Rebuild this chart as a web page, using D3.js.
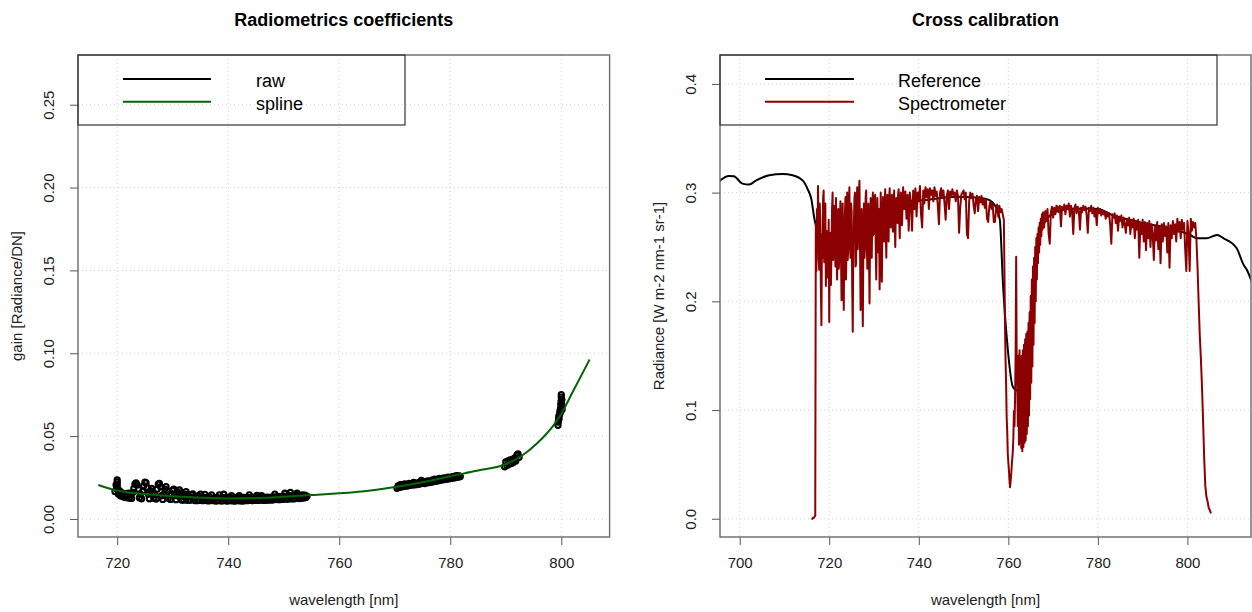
<!DOCTYPE html>
<html>
<head>
<meta charset="utf-8">
<script src="https://cdn.jsdelivr.net/npm/d3@7"></script>
<style>
  html, body { margin: 0; padding: 0; background: #ffffff; }
  svg { display: block; font-family: "Liberation Sans", Arial, Helvetica, sans-serif; }
</style>
</head>
<body>
<svg id="fig" width="1252" height="612"></svg>
<script>
// ---------------- Left panel: radiometric gain coefficients ----------------
const gainTicksX = [720, 740, 760, 780, 800];
const gainTicksY = [0, 0.05, 0.10, 0.15, 0.20, 0.25];
const gainTickLabelsY = ["0.00", "0.05", "0.10", "0.15", "0.20", "0.25"];

// raw gain samples, one row per 2 nm block, samples 0.2 nm apart
const rawStep = 0.2;
const rawRows = [
  [719.6, [0.0165, 0.0205, 0.0185, 0.0150, 0.0170, 0.0140, 0.0158, 0.0135, 0.0152, 0.0130]],
  [721.6, [0.0150, 0.0128, 0.0155, 0.0126, 0.0148, 0.0124, 0.0160, 0.0185, 0.0210, 0.0218]],
  [723.6, [0.0205, 0.0180, 0.0128, 0.0150, 0.0122, 0.0165, 0.0200, 0.0222, 0.0218, 0.0190]],
  [725.6, [0.0150, 0.0122, 0.0170, 0.0185, 0.0160, 0.0125, 0.0150, 0.0120, 0.0180, 0.0210]],
  [727.6, [0.0214, 0.0195, 0.0140, 0.0118, 0.0150, 0.0180, 0.0195, 0.0170, 0.0125, 0.0145]],
  [729.6, [0.0118, 0.0150, 0.0172, 0.0180, 0.0150, 0.0116, 0.0140, 0.0160, 0.0175, 0.0150]],
  [731.6, [0.0114, 0.0135, 0.0113, 0.0150, 0.0165, 0.0148, 0.0112, 0.0134, 0.0113, 0.0145]],
  [733.6, [0.0151, 0.0128, 0.0111, 0.0132, 0.0110, 0.0140, 0.0112, 0.0150, 0.0130, 0.0110]],
  [735.6, [0.0132, 0.0148, 0.0112, 0.0130, 0.0109, 0.0135, 0.0111, 0.0145, 0.0120, 0.0110]],
  [737.6, [0.0128, 0.0108, 0.0130, 0.0110, 0.0145, 0.0125, 0.0108, 0.0130, 0.0149, 0.0110]],
  [739.6, [0.0127, 0.0108, 0.0130, 0.0110, 0.0128, 0.0140, 0.0109, 0.0126, 0.0108, 0.0130]],
  [741.6, [0.0110, 0.0128, 0.0140, 0.0109, 0.0127, 0.0108, 0.0130, 0.0111, 0.0128, 0.0110]],
  [743.6, [0.0128, 0.0145, 0.0112, 0.0128, 0.0110, 0.0130, 0.0112, 0.0129, 0.0142, 0.0112]],
  [745.6, [0.0129, 0.0113, 0.0140, 0.0128, 0.0112, 0.0130, 0.0114, 0.0131, 0.0113, 0.0130]],
  [747.6, [0.0115, 0.0132, 0.0114, 0.0133, 0.0150, 0.0118, 0.0134, 0.0116, 0.0135, 0.0117]],
  [749.6, [0.0136, 0.0118, 0.0137, 0.0155, 0.0120, 0.0138, 0.0119, 0.0140, 0.0160, 0.0122]],
  [751.6, [0.0140, 0.0121, 0.0142, 0.0124, 0.0155, 0.0143, 0.0123, 0.0142, 0.0125, 0.0145]],
  [753.6, [0.0127, 0.0144, 0.0130, 0.0138]],
  [770.4, [0.0185, 0.0200, 0.0190, 0.0207, 0.0193, 0.0205, 0.0196, 0.0212, 0.0198, 0.0208]],
  [772.4, [0.0200, 0.0215, 0.0203, 0.0212, 0.0205, 0.0220, 0.0206, 0.0214, 0.0208, 0.0218]],
  [774.4, [0.0210, 0.0225, 0.0233, 0.0215, 0.0224, 0.0214, 0.0226, 0.0218, 0.0230, 0.0220]],
  [776.4, [0.0228, 0.0222, 0.0235, 0.0226, 0.0240, 0.0228, 0.0236, 0.0230, 0.0245, 0.0233]],
  [778.4, [0.0242, 0.0236, 0.0248, 0.0238, 0.0246, 0.0240, 0.0252, 0.0243, 0.0250, 0.0245]],
  [780.4, [0.0255, 0.0247, 0.0258, 0.0250, 0.0262, 0.0252, 0.0260, 0.0256]],
  [789.8, [0.0315, 0.0345, 0.0322, 0.0350, 0.0330, 0.0356, 0.0335, 0.0360, 0.0342, 0.0368]],
  [791.8, [0.0350, 0.0385, 0.0392, 0.0372]]
];
// repeated readings stacked at single wavelengths
const rawStacked = [
  [720.0, 0.0235], [720.0, 0.0222], [720.0, 0.0208], [720.0, 0.0193], [720.0, 0.0178],
  [799.4, 0.0565], [799.45, 0.0585], [799.5, 0.0600], [799.55, 0.0620],
  [799.6, 0.0605], [799.7, 0.0630], [799.75, 0.0650], [799.8, 0.0640],
  [799.85, 0.0665], [799.9, 0.0690], [799.95, 0.0710], [800.0, 0.0735],
  [800.0, 0.0750], [800.05, 0.0700], [800.1, 0.0680], [800.1, 0.0720],
  [800.15, 0.0660]
];
const splineWl   = [716.6, 720, 722, 725, 730, 735, 740, 745, 750, 755, 760, 764, 770, 775, 780, 785, 789.7, 792.7, 795.7, 798.7, 800, 802, 805.1];
const splineGain = [0.0205, 0.0171, 0.0160, 0.0150, 0.0137, 0.0128, 0.0123, 0.0126, 0.0134, 0.0144, 0.0155, 0.0166, 0.0193, 0.0222, 0.0258, 0.0292, 0.0327, 0.0377, 0.0458, 0.0569, 0.0635, 0.0763, 0.0962];

// ---------------- Right panel: cross calibration ----------------
const radTicksX = [700, 720, 740, 760, 780, 800];
const radTicksY = [0, 0.1, 0.2, 0.3, 0.4];
const radTickLabelsY = ["0.0", "0.1", "0.2", "0.3", "0.4"];

const refWl  = [695.0, 697.6, 698.7, 700.6, 702.1, 703.6, 706.6, 709.6, 711.8, 714.1, 715.2, 716.0, 716.7, 717.8, 719.0, 720.4, 721.5, 722.5, 724.5, 729.0, 730.4, 732.0, 733.4, 736.4, 740.9, 748.4, 753.6, 755.8, 757.2, 758.1, 758.8, 759.9, 761.0, 762.0, 763.5, 765.0, 766.5, 768.0, 770.0, 773.0, 777.0, 780.0, 783.4, 787.0, 790.0, 795.0, 800.6, 802.1, 804.3, 806.6, 808.1, 811.0, 812.5, 813.3, 814.5, 815.5];
const refRad = [0.309, 0.3153, 0.315, 0.3083, 0.3074, 0.311, 0.316, 0.3172, 0.316, 0.311, 0.303, 0.294, 0.2755, 0.262, 0.258, 0.2626, 0.265, 0.262, 0.2564, 0.2564, 0.2656, 0.2686, 0.284, 0.2916, 0.2931, 0.2962, 0.2953, 0.293, 0.287, 0.275, 0.2165, 0.155, 0.1215, 0.118, 0.135, 0.19, 0.25, 0.272, 0.281, 0.285, 0.2855, 0.285, 0.279, 0.275, 0.272, 0.268, 0.261, 0.258, 0.258, 0.261, 0.258, 0.2488, 0.234, 0.2288, 0.2165, 0.205];

// spectrometer radiance: [first wavelength, sample spacing (nm), samples]
const specRows = [
  [716.0, 0.125, [0.000, 0.000, 0.000, 0.001, 0.001, 0.001, 0.002, 0.003,
                  0.272, 0.228, 0.285, 0.250, 0.306, 0.240, 0.229, 0.290,
                  0.275, 0.215, 0.178, 0.262, 0.240, 0.295, 0.302, 0.236,
                  0.255, 0.290, 0.214, 0.265, 0.262, 0.222, 0.230, 0.275,
                  0.181, 0.262, 0.263, 0.215, 0.245, 0.285, 0.300, 0.238]],
  [721.0, 0.125, [0.250, 0.288, 0.262, 0.232, 0.295, 0.258, 0.220, 0.270,
                  0.285, 0.230, 0.240, 0.278, 0.292, 0.245, 0.201, 0.262,
                  0.290, 0.225, 0.192, 0.268, 0.280, 0.296, 0.220, 0.258,
                  0.300, 0.238, 0.250, 0.288, 0.305, 0.255, 0.240, 0.290,
                  0.283, 0.215, 0.172, 0.255, 0.270, 0.295, 0.300, 0.232]],
  [726.0, 0.125, [0.235, 0.290, 0.305, 0.248, 0.268, 0.300, 0.311, 0.250,
                  0.192, 0.260, 0.285, 0.228, 0.177, 0.255, 0.290, 0.240,
                  0.250, 0.295, 0.302, 0.262, 0.230, 0.275, 0.290, 0.245,
                  0.198, 0.262, 0.295, 0.255, 0.240, 0.288, 0.300, 0.262,
                  0.262, 0.295, 0.298, 0.250, 0.220, 0.268, 0.295, 0.258]],
  [731.0, 0.125, [0.245, 0.285, 0.211, 0.260, 0.300, 0.250, 0.218, 0.272,
                  0.296, 0.260, 0.255, 0.290, 0.303, 0.262, 0.240, 0.285,
                  0.298, 0.265, 0.255, 0.292, 0.304, 0.275, 0.268, 0.295,
                  0.298, 0.270, 0.264, 0.290, 0.302, 0.272, 0.250, 0.288,
                  0.295, 0.280, 0.272, 0.298, 0.303, 0.275, 0.258, 0.290]],
  [736.0, 0.25, [0.300, 0.270, 0.305, 0.285, 0.301, 0.276, 0.298, 0.265, 0.300, 0.290, 0.265, 0.302, 0.285, 0.304, 0.278, 0.300, 0.292, 0.306, 0.280, 0.268]],
  [741.0, 0.25, [0.302, 0.290, 0.305, 0.296, 0.303, 0.285, 0.304, 0.298, 0.302, 0.292, 0.305, 0.297, 0.301, 0.288, 0.271, 0.300, 0.304, 0.295, 0.302, 0.290]],
  [746.0, 0.25, [0.275, 0.297, 0.302, 0.285, 0.301, 0.296, 0.303, 0.298, 0.300, 0.292, 0.302, 0.297, 0.263, 0.286, 0.298, 0.300, 0.302, 0.294, 0.300, 0.262]],
  [751.0, 0.25, [0.258, 0.292, 0.300, 0.295, 0.299, 0.288, 0.281, 0.294, 0.297, 0.283, 0.296, 0.291, 0.297, 0.289, 0.294, 0.286, 0.293, 0.276, 0.273, 0.287]],
  [756.0, 0.25, [0.292, 0.285, 0.290, 0.273, 0.273, 0.284, 0.289, 0.278, 0.288, 0.282, 0.285, 0.280]],
  [759.0, 0.125, [0.275, 0.230, 0.180, 0.146, 0.125, 0.094, 0.080, 0.060,
                  0.052, 0.045, 0.036, 0.029, 0.034, 0.040, 0.048, 0.055,
                  0.062, 0.075, 0.099, 0.085, 0.110, 0.150, 0.241, 0.140,
                  0.124, 0.085, 0.150, 0.068, 0.155, 0.070, 0.148, 0.065,
                  0.150, 0.062, 0.155, 0.066, 0.160, 0.070, 0.165, 0.072,
                  0.170, 0.078, 0.172, 0.085, 0.180, 0.095, 0.190, 0.110,
                  0.205, 0.125, 0.220, 0.140, 0.232, 0.160, 0.240, 0.180,
                  0.250, 0.200, 0.258, 0.220, 0.262, 0.235, 0.268, 0.245,
                  0.272, 0.252, 0.276, 0.260, 0.280, 0.266, 0.282, 0.270]],
  [768.0, 0.25, [0.268, 0.283, 0.274, 0.285, 0.262, 0.253, 0.282, 0.287, 0.277, 0.286, 0.280, 0.288]],
  [771.0, 0.25, [0.287, 0.282, 0.288, 0.269, 0.287, 0.284, 0.289, 0.280, 0.288, 0.285, 0.290, 0.278, 0.288, 0.283, 0.262, 0.286, 0.289, 0.281, 0.287, 0.283]],
  [776.0, 0.25, [0.266, 0.286, 0.282, 0.288, 0.284, 0.287, 0.279, 0.263, 0.286, 0.283, 0.288, 0.281, 0.286, 0.278, 0.284, 0.270, 0.286, 0.281, 0.285, 0.279]],
  [781.0, 0.25, [0.284, 0.280, 0.283, 0.276, 0.282, 0.278, 0.281, 0.270, 0.253, 0.280, 0.277, 0.281, 0.272, 0.279, 0.265, 0.278, 0.274, 0.279, 0.268, 0.277]],
  [786.0, 0.25, [0.271, 0.263, 0.276, 0.270, 0.277, 0.262, 0.275, 0.268, 0.276, 0.258, 0.274, 0.266, 0.275, 0.240, 0.272, 0.262, 0.275, 0.255, 0.273, 0.247]],
  [791.0, 0.25, [0.272, 0.258, 0.274, 0.250, 0.271, 0.262, 0.238, 0.270, 0.256, 0.273, 0.248, 0.268, 0.235, 0.271, 0.255, 0.272, 0.260, 0.269, 0.245, 0.272]],
  [796.0, 0.25, [0.231, 0.270, 0.258, 0.274, 0.262, 0.271, 0.255, 0.276, 0.264, 0.273, 0.258, 0.275, 0.266, 0.272, 0.248, 0.228, 0.274, 0.262, 0.228, 0.276]],
  [801.0, 0.25, [0.265, 0.273, 0.268, 0.272, 0.258, 0.232, 0.200, 0.170, 0.148, 0.122, 0.090, 0.055, 0.030, 0.020, 0.016, 0.010, 0.008, 0.005]]
];

// ---------------- drawing ----------------
const svg = d3.select("#fig");
const FONT = 15;
const BOX_TOP = 55, BOX_BOTTOM = 537;

function expandRows(rows, step) {
  const out = [];
  rows.forEach(([start, vals]) => vals.forEach((v, i) => out.push([start + i * step, v])));
  return out;
}
function expandSpec(rows) {
  const out = [];
  rows.forEach(([start, step, vals]) => vals.forEach((v, i) => out.push([start + i * step, v])));
  return out;
}

function drawPanel(cfg) {
  const g = svg.append("g");
  const x = d3.scaleLinear().domain(cfg.xDomain).range([cfg.left, cfg.right]);
  const y = d3.scaleLinear().domain(cfg.yDomain).range([BOX_BOTTOM, BOX_TOP]);

  const clipId = cfg.id + "-clip";
  svg.append("clipPath").attr("id", clipId)
    .append("rect").attr("x", cfg.left).attr("y", BOX_TOP)
    .attr("width", cfg.right - cfg.left).attr("height", BOX_BOTTOM - BOX_TOP);

  // dotted grid at the tick positions
  const grid = g.append("g").attr("stroke", "#d3d3d3").attr("stroke-width", 1)
    .attr("stroke-dasharray", "1,3");
  grid.selectAll("line.v").data(cfg.ticksX).join("line")
    .attr("x1", d => x(d)).attr("x2", d => x(d))
    .attr("y1", BOX_TOP).attr("y2", BOX_BOTTOM);
  grid.selectAll("line.h").data(cfg.ticksY).join("line")
    .attr("y1", d => y(d)).attr("y2", d => y(d))
    .attr("x1", cfg.left).attr("x2", cfg.right);

  const plot = g.append("g").attr("clip-path", `url(#${clipId})`);
  cfg.drawData(plot, x, y);

  // axes
  const xAxis = d3.axisBottom(x).tickValues(cfg.ticksX).tickSize(8)
    .tickFormat(d3.format("d"));
  const gx = g.append("g").attr("transform", `translate(0,${BOX_BOTTOM})`).call(xAxis);
  const yAxis = d3.axisLeft(y).tickValues(cfg.ticksY).tickSize(8)
    .tickFormat((d, i) => cfg.tickLabelsY[i]);
  const gy = g.append("g").attr("transform", `translate(${cfg.left},0)`).call(yAxis);
  [gx, gy].forEach(a => {
    a.select(".domain").remove();
    a.selectAll(".tick line").attr("stroke", "#555");
    a.selectAll("text").attr("fill", "#222").attr("font-size", FONT)
      .attr("font-family", "Liberation Sans, Arial, sans-serif");
  });
  gx.selectAll(".tick text").attr("dy", null).attr("y", 31);
  gy.selectAll(".tick text")
    .attr("x", null).attr("dy", null)
    .attr("text-anchor", "middle")
    .attr("transform", "translate(-24,0) rotate(-90)");

  // plot frame
  g.append("rect").attr("x", cfg.left).attr("y", BOX_TOP)
    .attr("width", cfg.right - cfg.left).attr("height", BOX_BOTTOM - BOX_TOP)
    .attr("fill", "none").attr("stroke", "#6a6a6a").attr("stroke-width", 1.4);

  // titles
  const cx = (cfg.left + cfg.right) / 2;
  g.append("text").attr("x", cx).attr("y", 26).attr("text-anchor", "middle")
    .attr("font-size", 18).attr("font-weight", "bold").attr("fill", "#000")
    .text(cfg.title);
  g.append("text").attr("x", cx).attr("y", 605).attr("text-anchor", "middle")
    .attr("font-size", FONT).attr("fill", "#222").text(cfg.xLabel);
  g.append("text")
    .attr("transform", `translate(${cfg.left - 56},${(BOX_TOP + BOX_BOTTOM) / 2}) rotate(-90)`)
    .attr("text-anchor", "middle").attr("font-size", FONT).attr("fill", "#222")
    .text(cfg.yLabel);

  // legend (transparent, framed)
  const lg = g.append("g");
  lg.append("rect").attr("x", cfg.left).attr("y", BOX_TOP)
    .attr("width", cfg.legendRight - cfg.left).attr("height", 70)
    .attr("fill", "none").attr("stroke", "#333").attr("stroke-width", 1.2);
  cfg.legend.forEach((item, i) => {
    const ly = 79 + i * 22.7;
    lg.append("line").attr("x1", cfg.legendLine[0]).attr("x2", cfg.legendLine[1])
      .attr("y1", ly).attr("y2", ly).attr("stroke", item.color).attr("stroke-width", 2);
    lg.append("text").attr("x", cfg.legendText).attr("y", ly + 8)
      .attr("font-size", 18).attr("fill", "#000").text(item.label);
  });
}

// left: gain
drawPanel({
  id: "gain",
  left: 78, right: 609.6,
  xDomain: [712.94, 808.7],
  yDomain: [-0.0109, 0.2800],
  ticksX: gainTicksX, ticksY: gainTicksY, tickLabelsY: gainTickLabelsY,
  title: "Radiometrics coefficients",
  xLabel: "wavelength [nm]",
  yLabel: "gain [Radiance/DN]",
  legendRight: 405, legendLine: [123, 211], legendText: 256,
  legend: [{ label: "raw", color: "#000000" }, { label: "spline", color: "#006400" }],
  drawData: (p, x, y) => {
    const pts = expandRows(rawRows, rawStep).concat(rawStacked);
    p.append("g").selectAll("circle").data(pts).join("circle")
      .attr("cx", d => x(d[0])).attr("cy", d => y(d[1])).attr("r", 2.6)
      .attr("fill", "none").attr("stroke", "#000").attr("stroke-width", 2.1);
    const spl = splineWl.map((w, i) => [w, splineGain[i]]);
    p.append("path").datum(spl)
      .attr("d", d3.line().x(d => x(d[0])).y(d => y(d[1])).curve(d3.curveMonotoneX))
      .attr("fill", "none").attr("stroke", "#006400").attr("stroke-width", 2);
  }
});

// right: cross calibration
drawPanel({
  id: "rad",
  left: 720, right: 1251,
  xDomain: [695.6, 814.2],
  yDomain: [-0.0168, 0.4266],
  ticksX: radTicksX, ticksY: radTicksY, tickLabelsY: radTickLabelsY,
  title: "Cross calibration",
  xLabel: "wavelength [nm]",
  yLabel: "Radiance [W m-2 nm-1 sr-1]",
  legendRight: 1217, legendLine: [765, 854], legendText: 898,
  legend: [{ label: "Reference", color: "#000000" }, { label: "Spectrometer", color: "#8b0000" }],
  drawData: (p, x, y) => {
    const ref = refWl.map((w, i) => [w, refRad[i]]);
    p.append("path").datum(ref)
      .attr("d", d3.line().x(d => x(d[0])).y(d => y(d[1])).curve(d3.curveMonotoneX))
      .attr("fill", "none").attr("stroke", "#000").attr("stroke-width", 2);
    const spec = expandSpec(specRows);
    p.append("path").datum(spec)
      .attr("d", d3.line().x(d => x(d[0])).y(d => y(d[1])))
      .attr("fill", "none").attr("stroke", "#8b0000").attr("stroke-width", 2)
      .attr("stroke-linejoin", "round");
  }
});
</script>
</body>
</html>
